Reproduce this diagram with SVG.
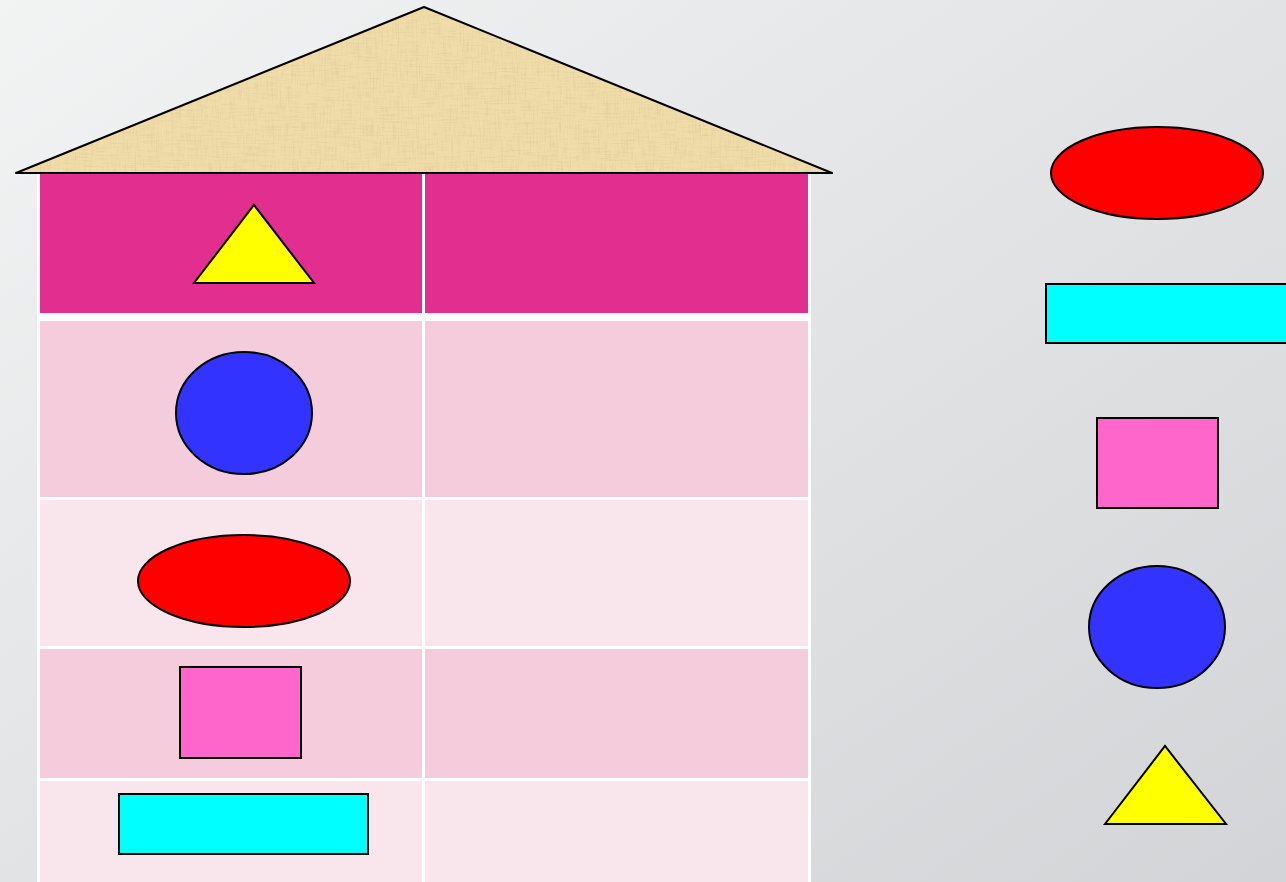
<svg xmlns="http://www.w3.org/2000/svg" width="1286" height="882" viewBox="0 0 1286 882">
<defs>
<linearGradient id="bg" x1="0" y1="0" x2="1" y2="1">
<stop offset="0" stop-color="#F2F3F3"/>
<stop offset="1" stop-color="#D3D4D7"/>
</linearGradient>
<filter id="paper" x="0" y="0" width="100%" height="100%">
<feTurbulence type="fractalNoise" baseFrequency="0.6 0.05" numOctaves="3" seed="3" result="n1"/>
<feTurbulence type="fractalNoise" baseFrequency="0.05 0.6" numOctaves="3" seed="7" result="n2"/>
<feBlend in="n1" in2="n2" mode="multiply" result="n"/>
<feColorMatrix in="n" type="matrix" values="0 0 0 0 0.6  0 0 0 0 0.48  0 0 0 0 0.25  -1.2 0 0 0 0.55" result="c"/>
<feComposite in="c" in2="SourceGraphic" operator="in" result="t"/>
<feMerge><feMergeNode in="SourceGraphic"/><feMergeNode in="t"/></feMerge>
</filter>
<style>
.s{stroke:#000;stroke-width:2}
.red{fill:#FF0000}.blue{fill:#3333FF}.cyan{fill:#00FFFF}.pink{fill:#FF66CC}.yel{fill:#FFFF00}
.c1{fill:#F4CCDC}.c2{fill:#F9E6EC}.hd{fill:#E22E8F}
</style>
</defs>
<rect width="1286" height="882" fill="url(#bg)"/>
<g id="table">
<rect x="37" y="172" width="774" height="712" fill="#FFFFFF"/>
<rect class="hd" x="40" y="172" width="382" height="141"/>
<rect class="hd" x="425" y="172" width="383" height="141"/>
<rect class="c1" x="40" y="321" width="382" height="176"/>
<rect class="c1" x="425" y="321" width="383" height="176"/>
<rect class="c2" x="40" y="500" width="382" height="146"/>
<rect class="c2" x="425" y="500" width="383" height="146"/>
<rect class="c1" x="40" y="649" width="382" height="129"/>
<rect class="c1" x="425" y="649" width="383" height="129"/>
<rect class="c2" x="40" y="781" width="382" height="101"/>
<rect class="c2" x="425" y="781" width="383" height="101"/>
</g>
<g id="roof">
<polygon points="16,173 424,7 832,173" fill="#F0DCA8" filter="url(#paper)"/>
<polygon points="16,173 424,7 832,173" fill="none" stroke="#000" stroke-width="2" stroke-linejoin="round"/>
</g>
<g id="table-shapes">
<polygon id="t-triangle" class="yel s" points="194,283 254,205 314,283"/>
<ellipse id="t-circle" class="blue s" cx="244" cy="413" rx="68" ry="61"/>
<ellipse id="t-ellipse" class="red s" cx="244" cy="581" rx="106" ry="46"/>
<rect id="t-square" class="pink s" x="180" y="667" width="121" height="91"/>
<rect id="t-rect" class="cyan s" x="119" y="794" width="249" height="60"/>
</g>
<g id="side-shapes">
<ellipse id="s-ellipse" class="red s" cx="1157" cy="173" rx="106" ry="46"/>
<rect id="s-rect" class="cyan s" x="1046" y="284" width="249" height="59"/>
<rect id="s-square" class="pink s" x="1097" y="418" width="121" height="90"/>
<ellipse id="s-circle" class="blue s" cx="1157" cy="627" rx="68" ry="61"/>
<polygon id="s-triangle" class="yel s" points="1105,824 1165,746 1226,824"/>
</g>
</svg>
